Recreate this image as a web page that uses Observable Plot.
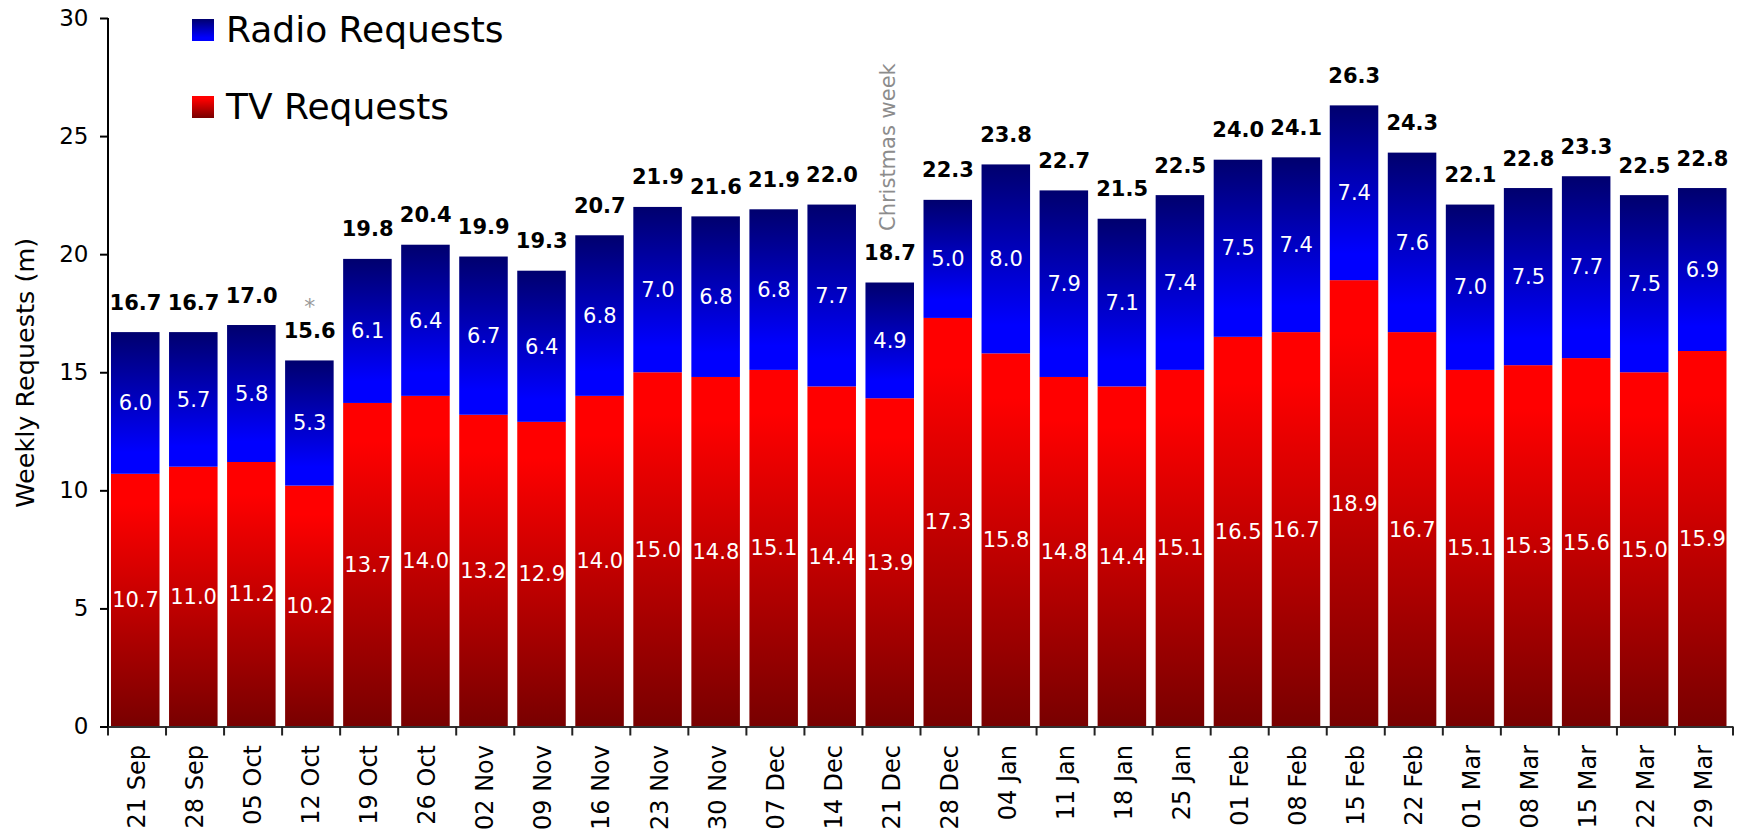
<!DOCTYPE html>
<html>
<head>
<meta charset="utf-8">
<script src="https://cdn.jsdelivr.net/npm/d3@7"></script>
<script src="https://cdn.jsdelivr.net/npm/@observablehq/plot@0.6"></script>
<style>
  body { margin: 0; background: #fff; font-family: "DejaVu Sans", sans-serif; }
  #wrap { position: relative; width: 1738px; height: 835px; }
  #legend { position: absolute; left: 0; top: 0; pointer-events: none; }
</style>
</head>
<body>
<div id="wrap"></div>
<script>
// ---- data ----
const weeks = ["21 Sep","28 Sep","05 Oct","12 Oct","19 Oct","26 Oct","02 Nov","09 Nov","16 Nov","23 Nov","30 Nov","07 Dec","14 Dec","21 Dec","28 Dec","04 Jan","11 Jan","18 Jan","25 Jan","01 Feb","08 Feb","15 Feb","22 Feb","01 Mar","08 Mar","15 Mar","22 Mar","29 Mar"];
const tvValues = [10.7,11.0,11.2,10.2,13.7,14.0,13.2,12.9,14.0,15.0,14.8,15.1,14.4,13.9,17.3,15.8,14.8,14.4,15.1,16.5,16.7,18.9,16.7,15.1,15.3,15.6,15.0,15.9];
const radioValues = [6.0,5.7,5.8,5.3,6.1,6.4,6.7,6.4,6.8,7.0,6.8,6.8,7.7,4.9,5.0,8.0,7.9,7.1,7.4,7.5,7.4,7.4,7.6,7.0,7.5,7.7,7.5,6.9];
const totals = [16.7,16.7,17.0,15.6,19.8,20.4,19.9,19.3,20.7,21.9,21.6,21.9,22.0,18.7,22.3,23.8,22.7,21.5,22.5,24.0,24.1,26.3,24.3,22.1,22.8,23.3,22.5,22.8];
const yTicks = [0,5,10,15,20,25,30];
const seriesNames = ["Radio Requests","TV Requests"];
const yLabel = "Weekly Requests (m)";
const starWeeks = ["12 Oct"];
const christmasWeeks = ["21 Dec"];
const christmasText = "Christmas week";

// ---- table built from the arrays ----
const rows = weeks.map((w, i) => ({
  week: w, tv: tvValues[i], radio: radioValues[i], total: totals[i], top: tvValues[i] + radioValues[i]
}));
const rowOf = w => rows.find(r => r.week === w);

const svgNS = "http://www.w3.org/2000/svg";
function gradientDefs() {
  const defs = document.createElementNS(svgNS, "defs");
  const mk = (id, stops) => {
    const g = document.createElementNS(svgNS, "linearGradient");
    g.setAttribute("id", id);
    g.setAttribute("x1", "0"); g.setAttribute("y1", "0");
    g.setAttribute("x2", "0"); g.setAttribute("y2", "1");
    for (const [o, c] of stops) {
      const s = document.createElementNS(svgNS, "stop");
      s.setAttribute("offset", o); s.setAttribute("stop-color", c);
      g.appendChild(s);
    }
    defs.appendChild(g);
  };
  mk("radioGrad", [["0%", "#00006e"], ["85%", "#0000ff"], ["100%", "#0000ff"]]);
  mk("tvGrad", [["0%", "#ff0000"], ["12%", "#ff0000"], ["100%", "#780000"]]);
  return defs;
}

function edgeTicks(index, scales) {
  const x = scales.x, y = scales.y;
  const bw = x.bandwidth();
  const edges = weeks.map(w => x(w)).concat([x(weeks[weeks.length - 1]) + bw]);
  const g = d3.create("svg:g");
  g.selectAll("line.t").data(edges).join("line")
    .attr("class", "t")
    .attr("x1", d => d).attr("x2", d => d)
    .attr("y1", y(0)).attr("y2", y(0) + 9)
    .attr("stroke", "#222").attr("stroke-width", 2);
  g.append("line")
    .attr("x1", edges[0]).attr("x2", edges[0])
    .attr("y1", y(0)).attr("y2", y(yTicks[yTicks.length - 1]))
    .attr("stroke", "#000").attr("stroke-width", 2);
  return g.node();
}

const chart = Plot.plot({
  width: 1738,
  height: 835,
  marginTop: 18,
  marginBottom: 108.5,
  marginLeft: 108,
  marginRight: 5,
  style: { fontFamily: "DejaVu Sans", background: "white", color: "black" },
  x: { type: "band", domain: weeks, padding: 0, round: false },
  y: { domain: [0, 30] },
  marks: [
    gradientDefs,
    Plot.barY(rows, { x: "week", y1: 0, y2: "tv", fill: "url(#tvGrad)", insetLeft: 3, insetRight: 6.5 }),
    Plot.barY(rows, { x: "week", y1: "tv", y2: "top", fill: "url(#radioGrad)", insetLeft: 3, insetRight: 6.5 }),
    Plot.text(rows, { x: "week", y: d => d.tv / 2, text: d => d.tv.toFixed(1), fill: "white", fontSize: 21, lineAnchor: "middle", dx: -2 }),
    Plot.text(rows, { x: "week", y: d => d.tv + d.radio / 2, text: d => d.radio.toFixed(1), fill: "white", fontSize: 21, lineAnchor: "middle", dx: -2 }),
    Plot.text(rows, { x: "week", y: "top", text: d => d.total.toFixed(1), fill: "black", fontSize: 21, fontWeight: "bold", lineAnchor: "bottom", dy: -23, dx: -2 }),
    Plot.text(starWeeks.map(rowOf), { x: "week", y: "top", text: () => "*", fill: "#999", fontSize: 22, lineAnchor: "bottom", dy: -47, dx: -2 }),
    Plot.text(christmasWeeks.map(rowOf), { x: "week", y: "top", text: () => christmasText, fill: "#8c8c8c", fontSize: 21, rotate: -90, textAnchor: "start", lineAnchor: "middle", dy: -52, dx: -4 }),
    Plot.ruleY([0], { stroke: "#333", strokeWidth: 2 }),
    edgeTicks,
    Plot.axisX({ tickRotate: -90, tickSize: 0, tickPadding: 18, fontSize: 24, label: null }),
    Plot.axisY({ ticks: yTicks, tickSize: 8, tickPadding: 12, fontSize: 23, strokeWidth: 2, label: null }),
    Plot.axisY({ ticks: [], tickSize: 0, fontSize: 25.5,
      label: yLabel, labelAnchor: "center", labelArrow: "none", labelOffset: 93 })
  ]
});

const wrap = document.getElementById("wrap");
wrap.appendChild(chart);

// legend overlay
const leg = d3.select(wrap).append("svg").attr("id", "legend").attr("width", 620).attr("height", 140);
const legendItems = [
  { name: seriesNames[0], fill: "url(#radioGrad)" },
  { name: seriesNames[1], fill: "url(#tvGrad)" }
];
legendItems.forEach((d, i) => {
  const top = 19 + i * 77;
  leg.append("rect").attr("x", 192).attr("y", top).attr("width", 22).attr("height", 22).attr("fill", d.fill);
  leg.append("text").attr("x", 226).attr("y", top + 23).attr("font-family", "DejaVu Sans").attr("font-size", 36).attr("fill", "#000").text(d.name);
});
</script>
</body>
</html>
